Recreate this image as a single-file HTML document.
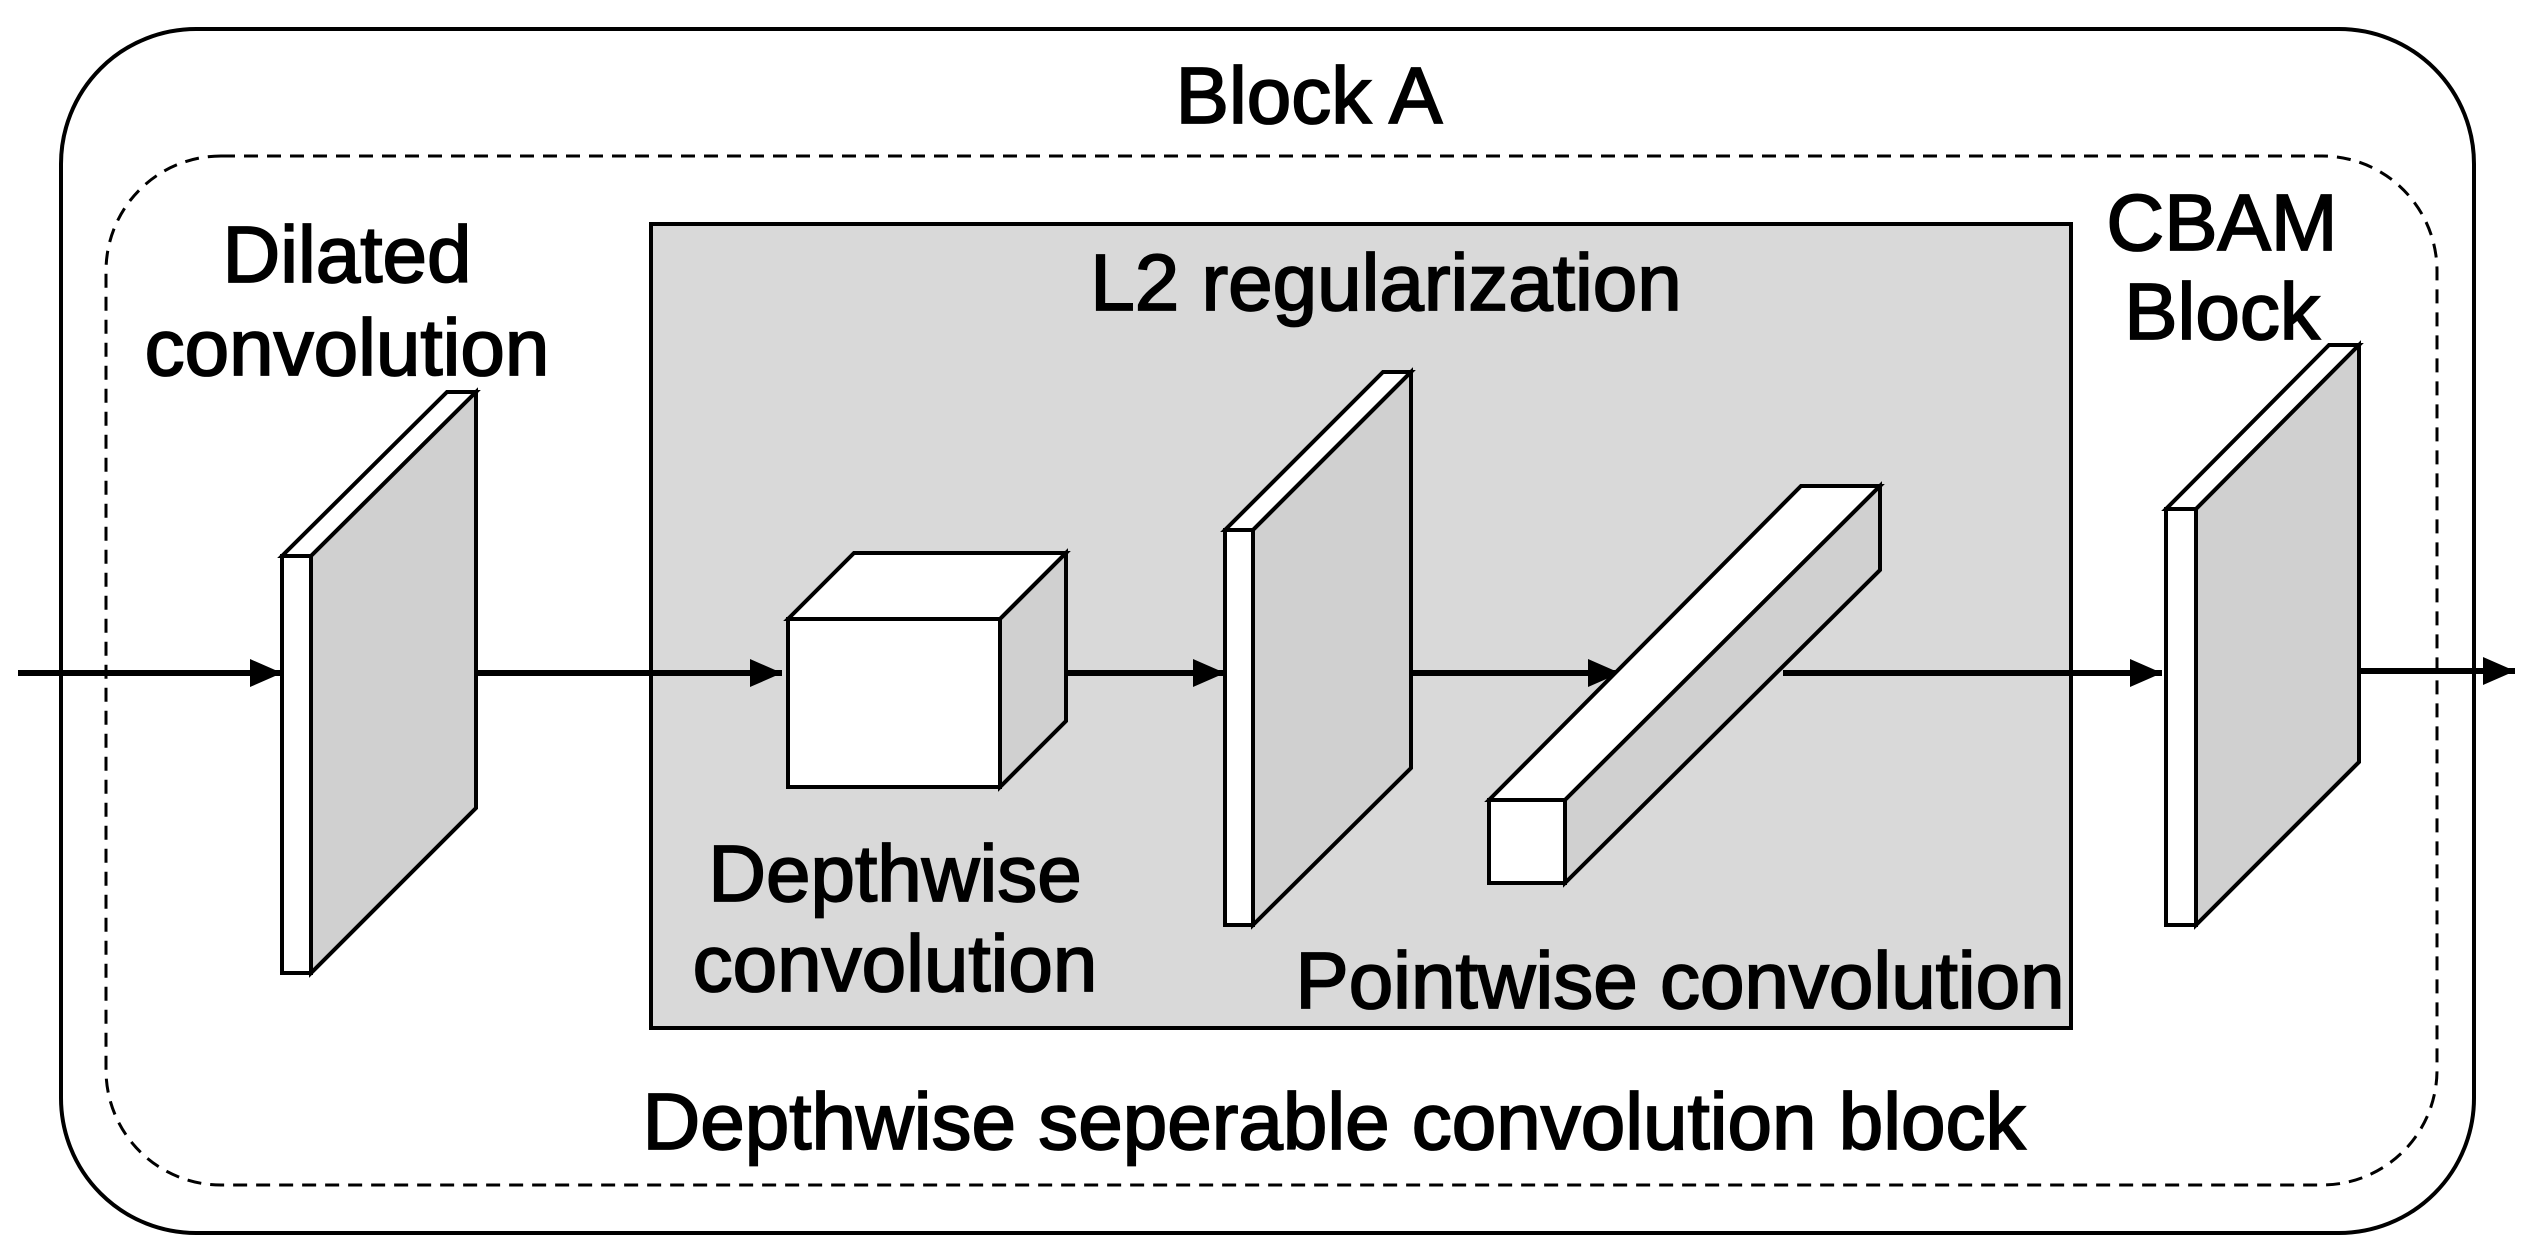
<!DOCTYPE html>
<html><head><style>body{margin:0;background:#fff}svg{display:block}text{font-family:"Liberation Sans",sans-serif;font-size:80px;fill:#000;stroke:#000;stroke-width:1.8;text-anchor:middle}</style></head>
<body>
<svg width="2527" height="1258" viewBox="0 0 2527 1258" xmlns="http://www.w3.org/2000/svg">
<defs>
<marker id="h" viewBox="0 0 10 10" refX="10" refY="5" markerWidth="32" markerHeight="28" markerUnits="userSpaceOnUse" orient="auto" preserveAspectRatio="none"><path d="M0,0 L10,5 L0,10 z" fill="#000"/></marker></defs>
<rect x="61" y="29" width="2413" height="1204" rx="135" fill="#fff" stroke="#000" stroke-width="4"/>
<rect x="106" y="156" width="2331" height="1029" rx="115" fill="none" stroke="#000" stroke-width="3" stroke-dasharray="14,9"/>
<rect x="651" y="224" width="1420" height="804" fill="#d9d9d9" stroke="#000" stroke-width="4"/>
<g stroke="#000" stroke-width="6" marker-end="url(#h)">
<line x1="18" y1="673" x2="282" y2="673"/>
<line x1="311" y1="673" x2="782" y2="673"/>
<line x1="1000" y1="673" x2="1225" y2="673"/>
<line x1="1411" y1="673" x2="1620" y2="673"/>
<line x1="1783" y1="673" x2="2162" y2="673"/>
<line x1="2359" y1="671" x2="2515" y2="671"/>
</g>
<g stroke="#000" stroke-width="4" stroke-linejoin="miter">
<polygon points="282,556 311,556 476,392 447,392" fill="#fff"/>
<polygon points="311,556 476,392 476,808 311,973" fill="#d0d0d0"/>
<rect x="282" y="556" width="29" height="417" fill="#fff"/>
<polygon points="788,619 854,553 1066,553 1000,619" fill="#fff"/>
<polygon points="1000,619 1066,553 1066,721 1000,787" fill="#d0d0d0"/>
<rect x="788" y="619" width="212" height="168" fill="#fff"/>
<polygon points="1225,530 1253,530 1411,372 1383,372" fill="#fff"/>
<polygon points="1253,530 1411,372 1411,768 1253,925" fill="#d0d0d0"/>
<rect x="1225" y="530" width="28" height="395" fill="#fff"/>
<polygon points="1489,800 1565,800 1880,486 1801,486" fill="#fff"/>
<polygon points="1565,800 1880,486 1880,570 1565,883" fill="#d0d0d0"/>
<rect x="1489" y="800" width="76" height="83" fill="#fff"/>
<polygon points="2166,509 2196,509 2359,345 2329,345" fill="#fff"/>
<polygon points="2196,509 2359,345 2359,762 2196,925" fill="#d0d0d0"/>
<rect x="2166" y="509" width="30" height="416" fill="#fff"/>
</g>
<text x="1309" y="123">Block A</text>
<text x="347" y="282">Dilated</text>
<text x="347" y="375">convolution</text>
<text x="1386" y="310">L2 regularization</text>
<text x="895" y="901">Depthwise</text>
<text x="895" y="991">convolution</text>
<text x="1680" y="1008">Pointwise convolution</text>
<text x="2222" y="250">CBAM</text>
<text x="2222" y="339">Block</text>
<text x="1334" y="1149">Depthwise seperable convolution block</text>
</svg>
</body></html>
